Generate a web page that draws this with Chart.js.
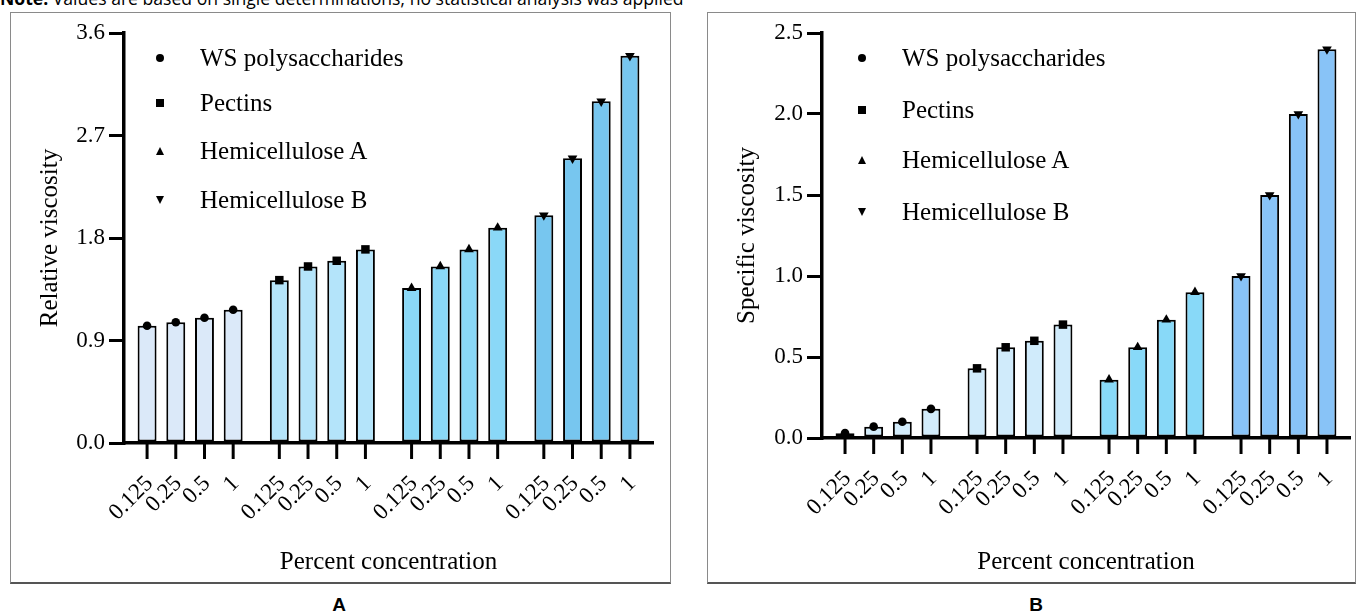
<!DOCTYPE html>
<html>
<head>
<meta charset="utf-8">
<script src="https://cdn.jsdelivr.net/npm/chart.js@4.4.1/dist/chart.umd.min.js"></script>
<style>
html, body { margin:0; padding:0; background:#fff; }
body { width:1357px; height:615px; overflow:hidden; position:relative; font-family:"Liberation Serif", "Times New Roman", serif; color:#000; }
.note { position:absolute; left:0; top:-13px; font-family:"Open Sans", sans-serif; font-size:17.6px; line-height:22px; white-space:nowrap; }
.panel { position:absolute; box-sizing:border-box; border:1px solid #8a8a8a; border-bottom:2px solid #555; }
#panelA { left:10px; top:12px; width:661px; height:572px; }
#panelB { left:707px; top:12px; width:649px; height:572px; }
canvas { position:absolute; }
#cA { left:10px; top:12px; }
#cB { left:707px; top:12px; }
.leg { position:absolute; font-family:"Liberation Serif", serif; font-size:25px; line-height:30px; white-space:nowrap; }
.mk { position:absolute; background:#000; }
.mk.circle { width:8px; height:8px; border-radius:50%; }
.mk.square { width:8px; height:8px; }
.mk.up { width:0; height:0; background:none; border-left:4.5px solid transparent; border-right:4.5px solid transparent; border-bottom:8px solid #000; }
.mk.down { width:0; height:0; background:none; border-left:4.5px solid transparent; border-right:4.5px solid transparent; border-top:8px solid #000; }
.plabel { position:absolute; width:60px; text-align:center; font-family:"Liberation Sans Narrow", "Liberation Sans", sans-serif; font-weight:bold; font-size:19px; line-height:22px; top:594px; }
</style>
</head>
<body>
<div class="note"><b>Note:</b> Values are based on single determinations; no statistical analysis was applied</div>
<div class="panel" id="panelA"></div>
<div class="panel" id="panelB"></div>
<canvas id="cA" width="661" height="571"></canvas>
<canvas id="cB" width="648" height="571"></canvas>
<div id="legends"></div>
<div class="plabel" style="left:309px">A</div>
<div class="plabel" style="left:1006px">B</div>
<script>
// ---- data ----
const concentrations = ['0.125', '0.25', '0.5', '1'];
const fractions = ['WS polysaccharides', 'Pectins', 'Hemicellulose A', 'Hemicellulose B'];

// Panel A: relative viscosity
const relWS      = [1.03, 1.06, 1.10, 1.17];
const relPectins = [1.43, 1.55, 1.60, 1.70];
const relHemiA   = [1.36, 1.55, 1.70, 1.89];
const relHemiB   = [2.00, 2.50, 3.00, 3.40];
const relTicks   = [0, 0.9, 1.8, 2.7, 3.6];

// Panel B: specific viscosity
const spWS      = [0.03, 0.07, 0.10, 0.18];
const spPectins = [0.43, 0.56, 0.60, 0.70];
const spHemiA   = [0.36, 0.56, 0.73, 0.90];
const spHemiB   = [1.00, 1.50, 2.00, 2.40];
const spTicks   = [0, 0.5, 1.0, 1.5, 2.0, 2.5];

// ---- styles ----
const colorsA = ['#dbe9f9', '#b4e4fa', '#8ad8f7', '#77c6ef'];
const colorsB = ['#d2ecfb', '#d0ebfb', '#88d9f8', '#88c3f7'];
const markerStyles = [
  { pointStyle: 'circle', radius: 4.3, rotation: 0 },
  { pointStyle: 'rect', radius: 6, rotation: 0 },
  { pointStyle: 'triangle', radius: 5.6, rotation: 0 },
  { pointStyle: 'triangle', radius: 5.6, rotation: 180 }
];
const legendMarkers = ['circle', 'square', 'up', 'down'];

function buildDatasets(series, colors) {
  return concentrations.map((c, ci) => ({
    label: c,
    data: series.map(s => s[ci]),
    backgroundColor: colors,
    borderColor: '#000',
    borderWidth: 2,
    borderSkipped: false,
    barPercentage: 0.66,
    categoryPercentage: 0.868
  }));
}

function fallbackPoint(ctx, st, x, y) {
  ctx.beginPath();
  if (st.pointStyle === 'circle') {
    ctx.arc(x, y, st.radius, 0, Math.PI * 2);
  } else if (st.pointStyle === 'rect') {
    const s = Math.SQRT1_2 * st.radius;
    ctx.rect(x - s, y - s, 2 * s, 2 * s);
  } else {
    const r = st.radius, d = st.rotation ? -1 : 1;
    ctx.moveTo(x, y - d * r);
    ctx.lineTo(x + r * 0.866, y + d * r * 0.5);
    ctx.lineTo(x - r * 0.866, y + d * r * 0.5);
    ctx.closePath();
  }
  ctx.fill();
}

const decor = {
  id: 'decor',
  afterDraw(chart) {
    const ctx = chart.ctx;
    const axisY = chart.chartArea.bottom;
    ctx.save();
    chart.data.datasets.forEach((ds, di) => {
      const meta = chart.getDatasetMeta(di);
      meta.data.forEach((el, gi) => {
        ctx.fillStyle = '#000';
        ctx.strokeStyle = '#000';
        const st = markerStyles[gi];
        if (Chart.helpers && Chart.helpers.drawPoint) {
          Chart.helpers.drawPoint(ctx, { pointStyle: st.pointStyle, radius: st.radius, rotation: st.rotation, borderWidth: 0 }, el.x, el.y);
        } else {
          fallbackPoint(ctx, st, el.x, el.y);
        }
        ctx.beginPath();
        ctx.lineWidth = 3;
        ctx.moveTo(el.x, axisY);
        ctx.lineTo(el.x, axisY + 16);
        ctx.stroke();
        ctx.save();
        ctx.translate(el.x + 2.5, axisY + 37);
        ctx.rotate(-Math.PI / 4);
        ctx.font = '23px "Liberation Serif"';
        ctx.textAlign = 'right';
        ctx.textBaseline = 'middle';
        ctx.fillText(ds.label, 0, 0);
        ctx.restore();
      });
    });
    ctx.restore();
  }
};

function makeChart(id, series, colors, ticksArr, yTitle, geo) {
  const tickFont = { family: '"Liberation Serif"', size: 23 };
  const titleFont = { family: '"Liberation Serif"', size: 25 };
  return new Chart(document.getElementById(id), {
    type: 'bar',
    data: { labels: fractions, datasets: buildDatasets(series, colors) },
    plugins: [decor],
    options: {
      responsive: false,
      animation: false,
      events: [],
      layout: { padding: { top: geo.top, right: geo.right, bottom: 0, left: 0 } },
      plugins: { legend: { display: false }, tooltip: { enabled: false } },
      scales: {
        x: {
          type: 'category',
          offset: true,
          grid: { display: false },
          border: { display: true, color: '#000', width: 3.5 },
          ticks: { display: false },
          title: { display: true, text: 'Percent concentration', color: '#000', font: titleFont, padding: { top: 0, bottom: 6 } },
          afterFit: s => { s.height = geo.xh; }
        },
        y: {
          min: ticksArr[0],
          max: ticksArr[ticksArr.length - 1],
          afterBuildTicks: s => { s.ticks = ticksArr.map(v => ({ value: v })); },
          grid: { display: true, drawOnChartArea: false, drawTicks: true, tickLength: 15, tickWidth: 3, tickColor: '#000', color: '#000', lineWidth: 3 },
          border: { display: true, color: '#000', width: 3.5 },
          ticks: { color: '#000', font: tickFont, padding: 4, callback: v => Number(v).toFixed(1) },
          title: { display: true, text: yTitle, color: '#000', font: titleFont, padding: { top: 25, bottom: 0 } },
          afterFit: s => { s.width = geo.yw; }
        }
      }
    }
  });
}

makeChart('cA', [relWS, relPectins, relHemiA, relHemiB], colorsA, relTicks, 'Relative viscosity', { top: 21, right: 18, xh: 140, yw: 114 });
makeChart('cB', [spWS, spPectins, spHemiA, spHemiB], colorsB, spTicks, 'Specific viscosity', { top: 21, right: 5, xh: 145, yw: 115 });

// ---- legends (inside each panel) ----
const legendLayouts = [
  { mx: 160, tx: 200, ys: [58, 103, 151, 200] },
  { mx: 862, tx: 902, ys: [58, 110, 160, 212] }
];
const legHost = document.getElementById('legends');
legendLayouts.forEach(L => {
  fractions.forEach((name, i) => {
    const m = document.createElement('div');
    m.className = 'mk ' + legendMarkers[i];
    m.style.left = (L.mx - 4) + 'px';
    m.style.top = (L.ys[i] - 4) + 'px';
    legHost.appendChild(m);
    const t = document.createElement('div');
    t.className = 'leg';
    t.textContent = name;
    t.style.left = L.tx + 'px';
    t.style.top = (L.ys[i] - 15) + 'px';
    legHost.appendChild(t);
  });
});
</script>
</body>
</html>
